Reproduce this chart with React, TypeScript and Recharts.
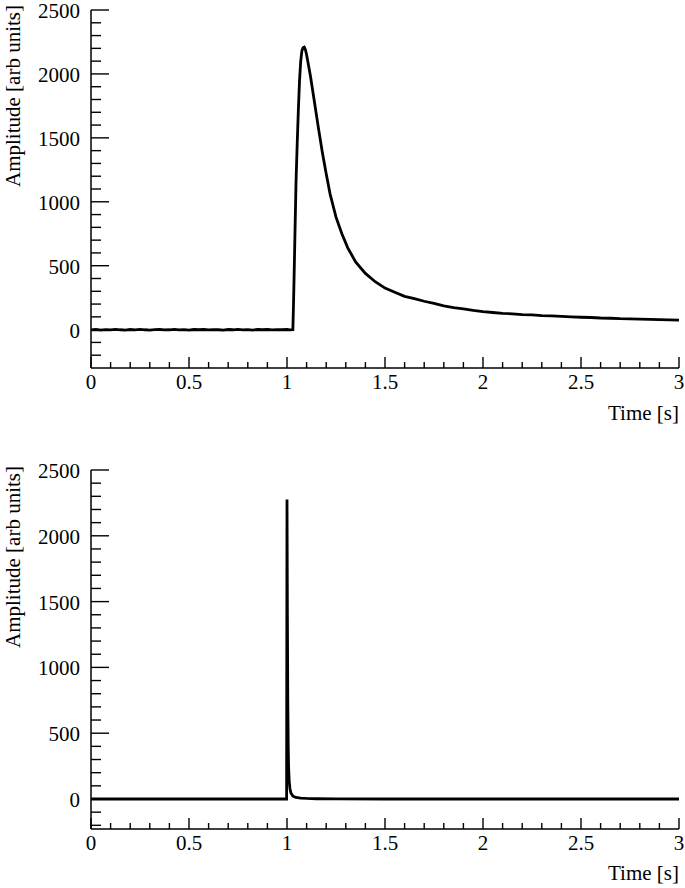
import React from 'react';
import { LineChart, Line, XAxis, YAxis } from 'recharts';

// slow pulse (top panel)
const slowTime = [
  0, 0.025, 0.05, 0.075, 0.1, 0.125, 0.15, 0.175, 0.2, 0.225, 0.25, 0.275, 0.3, 0.325, 0.35,
  0.375, 0.4, 0.425, 0.45, 0.475, 0.5, 0.525, 0.55, 0.575, 0.6, 0.625, 0.65, 0.675, 0.7,
  0.725, 0.75, 0.775, 0.8, 0.825, 0.85, 0.875, 0.9, 0.925, 0.95, 0.975, 1.0, 1.015, 1.03,
  1.034, 1.04, 1.046, 1.052, 1.058, 1.064, 1.07, 1.076, 1.082, 1.088, 1.094, 1.1, 1.12,
  1.14, 1.16, 1.18, 1.2, 1.22, 1.25, 1.28, 1.31, 1.35, 1.4, 1.45, 1.5, 1.55, 1.6, 1.65,
  1.7, 1.75, 1.8, 1.85, 1.9, 1.95, 2.0, 2.05, 2.1, 2.15, 2.2, 2.25, 2.3, 2.35, 2.4, 2.45,
  2.5, 2.55, 2.6, 2.65, 2.7, 2.75, 2.8, 2.85, 2.9, 2.95, 3.0,
];
const slowAmp = [
  -2, 1, -3, 0, -2, 2, -1, -3, 1, -2, 2, -1, -3, 0, 1, -2, -1, 2, -2, 0, -3, 1, -1, 1, -2,
  0, -1, -3, 1, -1, 2, -2, 0, -3, 1, -1, 1, -2, 0, -1, 1, -2, 0,
  250, 700, 1150, 1450, 1720, 1950, 2100, 2180, 2205, 2210, 2190, 2150, 1980,
  1780, 1580, 1390, 1220, 1060, 880, 750, 640, 530, 440, 375, 325, 292, 260, 243,
  222, 205, 186, 172, 162, 150, 141, 134, 128, 124, 118, 115, 110, 107, 103, 100,
  97, 95, 91, 89, 86, 85, 82, 80, 78, 77, 74,
];

// fast pulse (bottom panel)
const fastTime = [
  0, 0.25, 0.5, 0.75, 0.998, 1.0, 1.002, 1.004, 1.006, 1.008, 1.011, 1.015, 1.02, 1.03,
  1.045, 1.07, 1.1, 1.15, 1.25, 1.5, 2.0, 2.5, 3.0,
];
const fastAmp = [
  0, 0, 0, 0, 0, 2275, 1400, 750, 420, 250, 140, 80, 45, 22, 12, 7, 4, 2, 1, 0, 0, 0, 0,
];

const xTicks = [
  0, 0.1, 0.2, 0.3, 0.4, 0.5, 0.6, 0.7, 0.8, 0.9, 1, 1.1, 1.2, 1.3, 1.4, 1.5, 1.6, 1.7, 1.8,
  1.9, 2, 2.1, 2.2, 2.3, 2.4, 2.5, 2.6, 2.7, 2.8, 2.9, 3,
];
const yTicks = [
  -200, -100, 0, 100, 200, 300, 400, 500, 600, 700, 800, 900, 1000, 1100, 1200, 1300, 1400,
  1500, 1600, 1700, 1800, 1900, 2000, 2100, 2200, 2300, 2400, 2500,
];

const FONT = '"Liberation Serif", "Times New Roman", serif';
const FS = 21;

const toRows = (ts: number[], vs: number[]) => ts.map((t, i) => ({ t, v: vs[i] }));

const isMajorX = (v: number) => Math.abs(v * 2 - Math.round(v * 2)) < 1e-6;

const XTick = (props: any) => {
  const { x, y, payload } = props;
  const v = payload.value;
  const major = isMajorX(v);
  return (
    <g>
      <line x1={x} x2={x} y1={y} y2={y - (major ? 11 : 6)} stroke="#000" strokeWidth={1.4} />
      {major && (
        <text x={x} y={y + 21} textAnchor="middle" fontFamily={FONT} fontSize={FS} fill="#000">
          {Number(v.toFixed(1)).toString()}
        </text>
      )}
    </g>
  );
};

const YTick = (props: any) => {
  const { x, y, payload } = props;
  const v = payload.value;
  const major = v % 500 === 0;
  return (
    <g>
      <line x1={x} x2={x + (major ? 18 : 10)} y1={y} y2={y} stroke="#000" strokeWidth={1.4} />
      {major && (
        <text x={x - 11} y={y} dy="0.38em" textAnchor="end" fontFamily={FONT} fontSize={FS} fill="#000">
          {v}
        </text>
      )}
    </g>
  );
};

function Panel({ rows, yMin, top, height, marginTop, axisH }: any) {
  return (
    <div style={{ position: 'absolute', left: 0, top, width: 685, height }}>
      <LineChart width={685} height={height} data={rows} margin={{ top: marginTop, right: 6, left: 0, bottom: 0 }}>
        <XAxis
          dataKey="t"
          type="number"
          domain={[0, 3]}
          ticks={xTicks}
          interval={0}
          tickSize={0}
          tickMargin={0}
          tick={<XTick />}
          height={axisH}
          stroke="#000"
          strokeWidth={1.5}
          allowDataOverflow
        />
        <XAxis xAxisId="top" orientation="top" type="number" domain={[0, 3]} height={0} tick={false} tickLine={false} stroke="#000" strokeWidth={1.5} />
        <YAxis
          type="number"
          domain={[yMin, 2500]}
          ticks={yTicks}
          interval={0}
          tickSize={0}
          tickMargin={0}
          tick={<YTick />}
          width={91}
          stroke="#000"
          strokeWidth={1.5}
          allowDataOverflow
        />
        <YAxis yAxisId="right" orientation="right" type="number" domain={[yMin, 2500]} width={0} tick={false} tickLine={false} stroke="#000" strokeWidth={1.5} />
        <Line dataKey="v" type="linear" stroke="#000" strokeWidth={2.8} dot={false} isAnimationActive={false} />
      </LineChart>
    </div>
  );
}

export default function App() {
  const slowRows = toRows(slowTime, slowAmp);
  const fastRows = toRows(fastTime, fastAmp);
  const titleStyle = { fontFamily: FONT, fontSize: FS, fill: '#000' } as const;
  return (
    <div style={{ position: 'absolute', left: 0, top: 0, width: 685, height: 888, background: '#fff' }}>
      <Panel rows={slowRows} yMin={-300} top={0} height={444} marginTop={10} axisH={76} />
      <Panel rows={fastRows} yMin={-228} top={444} height={444} marginTop={26} axisH={59} />
      <svg width={685} height={888} style={{ position: 'absolute', left: 0, top: 0, pointerEvents: 'none' }}>
        <text transform="rotate(-90)" x={-5} y={20} textAnchor="end" {...titleStyle}>
          Amplitude [arb units]
        </text>
        <text x={679} y={420} textAnchor="end" {...titleStyle}>
          Time [s]
        </text>
        <text transform="rotate(-90)" x={-466} y={20} textAnchor="end" {...titleStyle}>
          Amplitude [arb units]
        </text>
        <text x={679} y={880} textAnchor="end" {...titleStyle}>
          Time [s]
        </text>
      </svg>
    </div>
  );
}
